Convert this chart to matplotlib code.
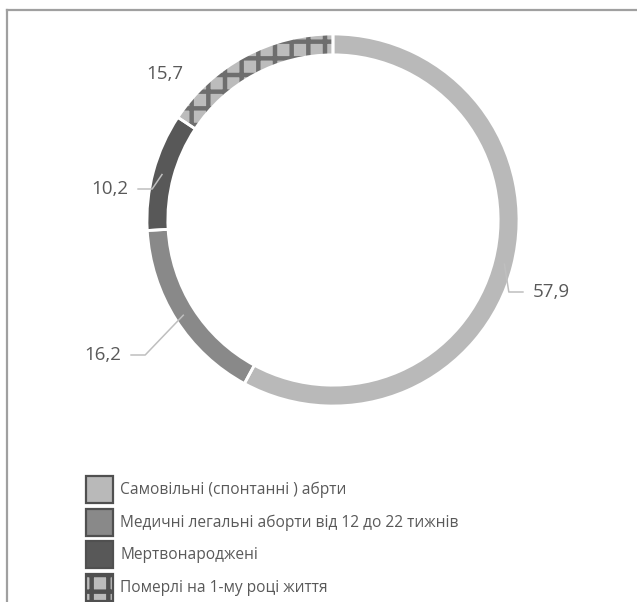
import matplotlib
matplotlib.use("Agg")
import matplotlib.pyplot as plt
import numpy as np
from matplotlib.patches import Patch
from matplotlib.lines import Line2D

# data
categories = [
    "Самовільні (спонтанні ) абрти",
    "Медичні легальні аборти від 12 до 22 тижнів",
    "Мертвонароджені",
    "Померлі на 1-му році життя",
]
values = [57.9, 16.2, 10.2, 15.7]
value_labels = ["57,9", "16,2", "10,2", "15,7"]

# styling
colors = ["#b9b9b9", "#898989", "#585858", "#bcbcbc"]
hatches = [None, None, None, "+"]
hatch_edge = ["#b9b9b9", "#898989", "#585858", "#6e6e6e"]
text_color = "#595959"
leader_color = "#bfbfbf"

plt.rcParams["font.family"] = ["Open Sans", "DejaVu Sans"]
plt.rcParams["hatch.linewidth"] = 3.2

W, H = 637, 602
cx, cy, R = 333, 220, 186  # pie centre / radius in pixels


def px(x, y):
    """pixel position -> data coords of the pie axes"""
    return (x - cx) / R, (cy - y) / R


# label placement (pixels): x, y, alignment
label_pos = [(533, 292, "left"), (121, 355, "right"), (128, 189, "right"), (183, 74, "right")]
show_leader = [True, True, True, False]

fig = plt.figure(figsize=(W / 100, H / 100), dpi=100)
ax = fig.add_axes([0, 0, 1, 1])

ring = 0.112
wedges, _ = ax.pie(values, radius=1, startangle=90, counterclock=False,
                   colors=colors, wedgeprops=dict(width=ring, linewidth=0))
for w, h, ec in zip(wedges, hatches, hatch_edge):
    w.set_edgecolor(ec)
    w.set_linewidth(0)
    if h:
        w.set_hatch(h)

# white separators on top
ax.pie(values, radius=1, startangle=90, counterclock=False,
       colors=["none"] * len(values),
       wedgeprops=dict(width=ring, edgecolor="white", linewidth=2.0))

ax.set_xlim(-cx / R, (W - cx) / R)
ax.set_ylim(-(H - cy) / R, cy / R)
ax.axis("off")

# value labels with leader lines
total = sum(values)
cum = np.concatenate([[0], np.cumsum(values)])
for i, lab in enumerate(value_labels):
    tx, ty = px(label_pos[i][0], label_pos[i][1])
    ha = label_pos[i][2]
    ax.text(tx, ty, lab, ha=ha, va="center", fontsize=13.5, color=text_color)
    if not show_leader[i]:
        continue
    a1 = 90 - 360 * cum[i] / total
    a2 = 90 - 360 * cum[i + 1] / total
    mid = np.deg2rad((a1 + a2) / 2)
    ax_, ay_ = 0.95 * np.cos(mid), 0.95 * np.sin(mid)
    sgn = -1 if ha == "left" else 1
    ex = tx + sgn * 0.05
    elx = ex + sgn * 0.08
    ax.plot([ax_, elx, ex], [ay_, ty, ty], color=leader_color, lw=1.1,
            solid_capstyle="butt")

# legend
handles = [Patch(facecolor=c, edgecolor="#505050", linewidth=1.6, hatch=h)
           for c, h in zip(colors, hatches)]
fig.legend(handles, categories, loc="upper left",
           bbox_to_anchor=(86 / W, 1 - 476 / H), bbox_transform=fig.transFigure,
           frameon=False, fontsize=11.2, borderpad=0, borderaxespad=0,
           handlelength=1.75, handleheight=2.3, labelspacing=0.35,
           handletextpad=0.45, labelcolor=text_color)

# partial frame (top and left)
fig.add_artist(Line2D([7 / W, 1], [1 - 10 / H, 1 - 10 / H], color="#a0a0a0", lw=1.6))
fig.add_artist(Line2D([7 / W, 7 / W], [0, 1 - 10 / H], color="#a0a0a0", lw=1.6))

fig.savefig("out.png", dpi=100)
